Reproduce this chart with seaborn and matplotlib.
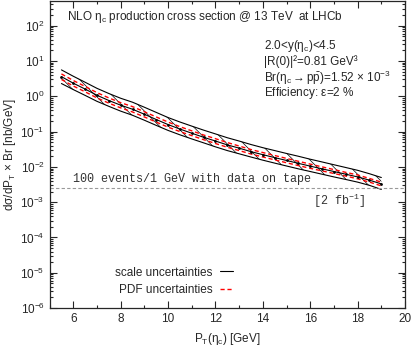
import numpy as np
import pandas as pd
import matplotlib
matplotlib.use("Agg")
import matplotlib.pyplot as plt
import seaborn as sns

# values
pt = [5.5, 6.0, 6.5, 7.0, 7.5, 8.0, 8.5, 9.0, 9.5, 10.0, 10.5, 11.0, 11.5, 12.0,
      12.5, 13.0, 13.5, 14.0, 14.5, 15.0, 15.5, 16.0, 16.5, 17.0, 17.5, 18.0, 18.5, 19.0]
central = [3.6, 2.35, 1.6, 1.07, 0.76, 0.56, 0.43, 0.31, 0.22, 0.158, 0.118, 0.090, 0.069, 0.054,
           0.042, 0.034, 0.027, 0.0222, 0.0183, 0.0152, 0.0126, 0.0105, 0.0088, 0.0074, 0.0062, 0.0052, 0.0042, 0.0033]
scale_up = [5.6, 3.7, 2.5, 1.68, 1.2, 0.88, 0.68, 0.49, 0.35, 0.25, 0.187, 0.143, 0.11, 0.086,
            0.067, 0.054, 0.043, 0.035, 0.029, 0.024, 0.020, 0.0165, 0.0138, 0.0115, 0.0096, 0.0080, 0.0064, 0.0050]
scale_lo = [2.3, 1.55, 1.06, 0.72, 0.52, 0.38, 0.29, 0.21, 0.15, 0.108, 0.081, 0.062, 0.048, 0.037,
            0.029, 0.0235, 0.019, 0.0155, 0.0128, 0.0106, 0.0088, 0.0074, 0.0062, 0.0052, 0.0044, 0.0037, 0.0030, 0.0023]
pdf_up = [4.3, 2.8, 1.9, 1.27, 0.9, 0.66, 0.51, 0.365, 0.26, 0.186, 0.138, 0.105, 0.080, 0.063,
          0.049, 0.039, 0.031, 0.0255, 0.021, 0.0174, 0.0144, 0.012, 0.010, 0.0084, 0.0070, 0.0059, 0.0047, 0.0037]
pdf_lo = [3.0, 1.96, 1.34, 0.9, 0.64, 0.47, 0.36, 0.26, 0.186, 0.134, 0.1, 0.077, 0.059, 0.046,
          0.036, 0.029, 0.0232, 0.0191, 0.0158, 0.0131, 0.0109, 0.0091, 0.0077, 0.0065, 0.0055, 0.0046, 0.0037, 0.0029]
threshold = 2.5e-3
ytick_vals = [1e-6, 1e-5, 1e-4, 1e-3, 1e-2, 1e-1, 1e0, 1e1, 1e2]
ytick_labels = ['10$^{-6}$', '10$^{-5}$', '10$^{-4}$', '10$^{-3}$', '10$^{-2}$',
                '10$^{-1}$', '10$^{0}$', '10$^{1}$', '10$^{2}$']

df = pd.DataFrame({"pt": pt, "central": central, "scale_up": scale_up, "scale_lo": scale_lo,
                   "pdf_up": pdf_up, "pdf_lo": pdf_lo})

sns.set_style("ticks")
plt.rcParams['font.family'] = ['Liberation Sans', 'DejaVu Sans']
plt.rcParams['hatch.linewidth'] = 0.5
plt.rcParams['mathtext.fontset'] = 'custom'
plt.rcParams['mathtext.rm'] = 'Liberation Sans'
plt.rcParams['mathtext.it'] = 'Liberation Sans'
plt.rcParams['mathtext.default'] = 'regular'

fig = plt.figure(figsize=(4.15, 3.45), dpi=100)
ax = fig.add_axes([0.1195, 0.107, 0.8565, 0.89])

ax.fill_between(df.pt, df.scale_lo, df.scale_up, facecolor='none', edgecolor='black',
                hatch='\\\\', linewidth=0)
sns.lineplot(data=df, x='pt', y='scale_up', color='black', lw=0.8, ax=ax, label='scale uncertainties')
sns.lineplot(data=df, x='pt', y='scale_lo', color='black', lw=0.8, ax=ax)
sns.lineplot(data=df, x='pt', y='pdf_up', color='red', lw=1.0, ls=(0, (3, 2)), ax=ax, label='PDF uncertainties')
sns.lineplot(data=df, x='pt', y='pdf_lo', color='red', lw=1.0, ls=(0, (3, 2)), ax=ax)
sns.lineplot(data=df, x='pt', y='central', color='black', lw=0.8, marker='o', markersize=2,
             markeredgewidth=0, ax=ax)
ax.axhline(threshold, color='#999999', lw=0.8, ls=(0, (3, 2)))

ax.set_yscale('log')
ax.set_xlim(5, 20)
ax.set_ylim(1e-6, 500)
ax.set_xticks([6, 8, 10, 12, 14, 16, 18, 20])
ax.set_xticks(np.arange(5, 20, 1), minor=True)
ax.set_yticks(ytick_vals, ytick_labels)
minor = [m * v for v in ytick_vals for m in range(2, 10) if m * v < 500]
ax.set_yticks(minor, minor=True)
ax.yaxis.set_minor_formatter(matplotlib.ticker.NullFormatter())
ax.tick_params(which='both', direction='in', top=True, right=True, labelsize=8.5, width=0.8)
ax.tick_params(which='major', length=5)
ax.tick_params(which='minor', length=2.5)
for s in ax.spines.values():
    s.set_linewidth(0.9)

ax.set_xlabel(r'P$_\mathregular{T}$($\eta_\mathregular{c}$) [GeV]', fontsize=8.5, labelpad=4)
ax.set_ylabel(r'd$\sigma$/dP$_\mathregular{T}$ $\times$ Br [nb/GeV]', fontsize=8.5, labelpad=2)

ax.text(0.048, 0.948, r'NLO $\eta_\mathregular{c}$ production cross section @ 13 TeV  at LHCb',
        transform=ax.transAxes, fontsize=8.5, va='center')
info = [r'2.0<y($\eta_\mathregular{c}$)<4.5',
        '|R(0)|²=0.81 GeV³',
        r'Br($\eta_\mathregular{c}$$\rightarrow$p$\bar{\mathregular{p}}$)=1.52 $\times$ 10$^\mathregular{-3}$',
        r'Efficiency: $\epsilon$=2 %']
for i, t in enumerate(info):
    ax.text(0.603, 0.855 - i * 0.052, t, transform=ax.transAxes, fontsize=8.5, va='center')

ax.text(6.0, threshold * 1.2, '100 events/1 GeV with data on tape', fontsize=8.5,
        family='Liberation Mono', color='#333333', va='bottom')
ax.text(16.1, threshold / 1.25, r'[2 fb$^{\mathregular{-1}}$]', fontsize=8.5,
        family='Liberation Mono', color='#333333', va='top')

ax.legend(loc='lower left', bbox_to_anchor=(0.155, 0.005), frameon=False, markerfirst=False,
          handlelength=1.1, handletextpad=0.6, fontsize=8.5, labelspacing=0.45)

fig.savefig('out.png', dpi=100)
